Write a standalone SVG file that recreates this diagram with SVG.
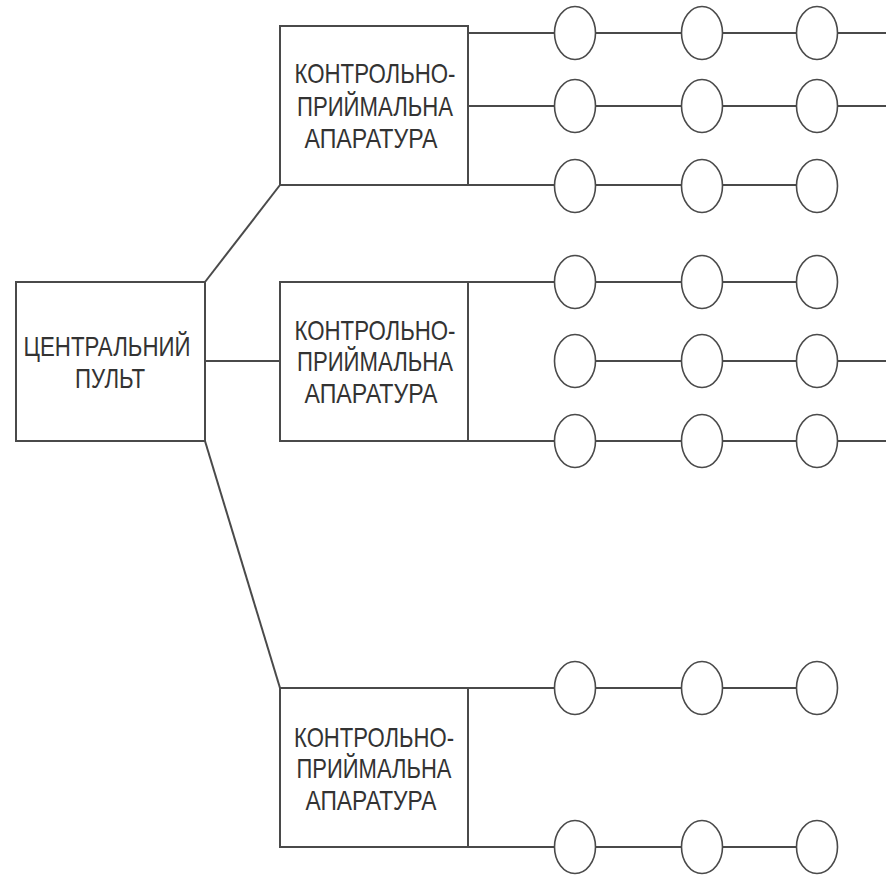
<svg xmlns="http://www.w3.org/2000/svg" width="886" height="876" viewBox="0 0 886 876">
<style>
.box{fill:#fff;stroke:#4a4a4a;stroke-width:2}
.c{fill:#fff;stroke:#4a4a4a;stroke-width:1.6}
.ln{stroke:#4a4a4a;stroke-width:2;fill:none}
.t{font-family:"Liberation Sans",Arial,sans-serif;font-size:28px;fill:#333;text-anchor:middle}
</style>
<rect width="886" height="876" fill="#fff"/>
<g id="connectors">
<line class="ln" x1="205" y1="282" x2="280" y2="185"/>
<line class="ln" x1="205" y1="361" x2="280" y2="361"/>
<line class="ln" x1="205" y1="441" x2="280" y2="688"/>
<line class="ln" x1="468" y1="33" x2="886" y2="33"/>
<line class="ln" x1="468" y1="106" x2="886" y2="106"/>
<line class="ln" x1="468" y1="185" x2="817" y2="185"/>
<line class="ln" x1="468" y1="282" x2="817" y2="282"/>
<line class="ln" x1="575" y1="361" x2="886" y2="361"/>
<line class="ln" x1="468" y1="441" x2="886" y2="441"/>
<line class="ln" x1="468" y1="688" x2="817" y2="688"/>
<line class="ln" x1="468" y1="847" x2="817" y2="847"/>
</g>
<g id="central">
<rect class="box" x="16" y="282" width="189" height="159"/>
<text class="t" x="107" y="356" textLength="167" lengthAdjust="spacingAndGlyphs">ЦЕНТРАЛЬНИЙ</text>
<text class="t" x="110" y="388" textLength="70" lengthAdjust="spacingAndGlyphs">ПУЛЬТ</text>
</g>
<g id="kpa1">
<rect class="box" x="280" y="26" width="188" height="159"/>
<text class="t" x="375" y="83" textLength="161" lengthAdjust="spacingAndGlyphs">КОНТРОЛЬНО-</text>
<text class="t" x="375" y="116" textLength="156" lengthAdjust="spacingAndGlyphs">ПРИЙМАЛЬНА</text>
<text class="t" x="371" y="148" textLength="133" lengthAdjust="spacingAndGlyphs">АПАРАТУРА</text>
</g>
<g id="kpa2">
<rect class="box" x="280" y="282" width="188" height="159"/>
<text class="t" x="375" y="340" textLength="161" lengthAdjust="spacingAndGlyphs">КОНТРОЛЬНО-</text>
<text class="t" x="375" y="371" textLength="156" lengthAdjust="spacingAndGlyphs">ПРИЙМАЛЬНА</text>
<text class="t" x="371" y="403" textLength="133" lengthAdjust="spacingAndGlyphs">АПАРАТУРА</text>
</g>
<g id="kpa3">
<rect class="box" x="280" y="688" width="188" height="159"/>
<text class="t" x="374" y="747" textLength="160" lengthAdjust="spacingAndGlyphs">КОНТРОЛЬНО-</text>
<text class="t" x="374" y="778" textLength="155" lengthAdjust="spacingAndGlyphs">ПРИЙМАЛЬНА</text>
<text class="t" x="371" y="810" textLength="131" lengthAdjust="spacingAndGlyphs">АПАРАТУРА</text>
</g>
<g id="d1-1"><ellipse class="c" cx="575" cy="33" rx="20.5" ry="26.5"/></g>
<g id="d1-2"><ellipse class="c" cx="702" cy="33" rx="20.5" ry="26.5"/></g>
<g id="d1-3"><ellipse class="c" cx="817" cy="33" rx="20.5" ry="26.5"/></g>
<g id="d2-1"><ellipse class="c" cx="575" cy="106" rx="20.5" ry="26.5"/></g>
<g id="d2-2"><ellipse class="c" cx="702" cy="106" rx="20.5" ry="26.5"/></g>
<g id="d2-3"><ellipse class="c" cx="817" cy="106" rx="20.5" ry="26.5"/></g>
<g id="d3-1"><ellipse class="c" cx="575" cy="186" rx="20.5" ry="26.5"/></g>
<g id="d3-2"><ellipse class="c" cx="702" cy="186" rx="20.5" ry="26.5"/></g>
<g id="d3-3"><ellipse class="c" cx="817" cy="186" rx="20.5" ry="26.5"/></g>
<g id="d4-1"><ellipse class="c" cx="575" cy="282" rx="20.5" ry="26.5"/></g>
<g id="d4-2"><ellipse class="c" cx="702" cy="282" rx="20.5" ry="26.5"/></g>
<g id="d4-3"><ellipse class="c" cx="817" cy="282" rx="20.5" ry="26.5"/></g>
<g id="d5-1"><ellipse class="c" cx="575" cy="361" rx="20.5" ry="26.5"/></g>
<g id="d5-2"><ellipse class="c" cx="702" cy="361" rx="20.5" ry="26.5"/></g>
<g id="d5-3"><ellipse class="c" cx="817" cy="361" rx="20.5" ry="26.5"/></g>
<g id="d6-1"><ellipse class="c" cx="575" cy="441" rx="20.5" ry="26.5"/></g>
<g id="d6-2"><ellipse class="c" cx="702" cy="441" rx="20.5" ry="26.5"/></g>
<g id="d6-3"><ellipse class="c" cx="817" cy="441" rx="20.5" ry="26.5"/></g>
<g id="d7-1"><ellipse class="c" cx="575" cy="688" rx="20.5" ry="26.5"/></g>
<g id="d7-2"><ellipse class="c" cx="702" cy="688" rx="20.5" ry="26.5"/></g>
<g id="d7-3"><ellipse class="c" cx="817" cy="688" rx="20.5" ry="26.5"/></g>
<g id="d8-1"><ellipse class="c" cx="575" cy="847" rx="20.5" ry="26.5"/></g>
<g id="d8-2"><ellipse class="c" cx="702" cy="847" rx="20.5" ry="26.5"/></g>
<g id="d8-3"><ellipse class="c" cx="817" cy="847" rx="20.5" ry="26.5"/></g>
</svg>
